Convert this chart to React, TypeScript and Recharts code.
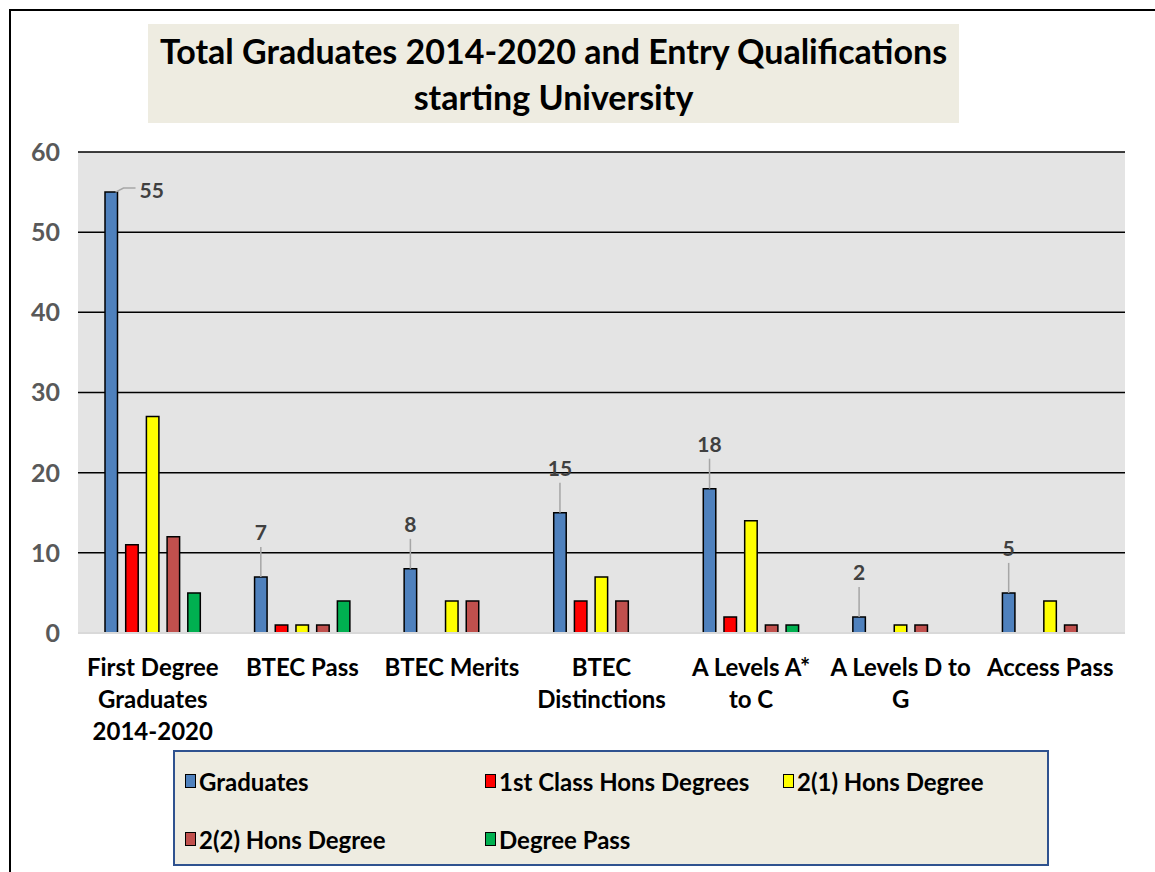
import React from 'react';
import { BarChart, Bar, XAxis, YAxis, CartesianGrid, Legend, LabelList } from 'recharts';

const categories = [
  'First Degree\nGraduates\n2014-2020',
  'BTEC Pass',
  'BTEC Merits',
  'BTEC\nDistinctions',
  'A Levels A*\nto C',
  'A Levels D to\nG',
  'Access Pass',
];
const graduates = [55, 7, 8, 15, 18, 2, 5];
const firstClass = [11, 1, null, 4, 2, null, null];
const upperSecond = [27, 1, 4, 7, 14, 1, 4];
const lowerSecond = [12, 1, 4, 4, 1, 1, 1];
const degreePass = [5, 4, null, null, 1, null, null];
const yTicks = [0, 10, 20, 30, 40, 50, 60];

const series = [
  { key: 'graduates', name: 'Graduates', color: '#4f81bd', values: graduates },
  { key: 'firstClass', name: '1st Class Hons Degrees', color: '#ff0000', values: firstClass },
  { key: 'upperSecond', name: '2(1) Hons Degree', color: '#ffff00', values: upperSecond },
  { key: 'lowerSecond', name: '2(2) Hons Degree', color: '#c0504d', values: lowerSecond },
  { key: 'degreePass', name: 'Degree Pass', color: '#00b050', values: degreePass },
];

const data = categories.map((cat, i) => {
  const row: any = { cat };
  series.forEach(s => { row[s.key] = s.values[i]; });
  return row;
});

const FONT = 'Lato, "Open Sans", sans-serif';

// x axis labels wrap over several lines
const CatTick = (props: any) => {
  const { x, y, payload } = props;
  const lines = String(payload.value).split('\n');
  return (
    <text x={x} y={y} textAnchor="middle" fill="#000" fontFamily={FONT} fontWeight={700} fontSize={24}>
      {lines.map((l, i) => (
        <tspan key={i} x={x} dy={i === 0 ? 35 : 32}>{l}</tspan>
      ))}
    </text>
  );
};

// value labels on the blue bars, with short leader lines
const GradLabel = (props: any) => {
  const { x, y, width, value, index } = props;
  const style = { fontFamily: FONT, fontWeight: 700, fontSize: 21, fill: '#404040' };
  if (index === 0) {
    return (
      <g>
        <path d={`M${x + width - 2},${y} L${x + width + 6},${y - 4} L${x + width + 18},${y - 4}`} stroke="#a6a6a6" strokeWidth={1.5} fill="none" />
        <text x={x + width + 22} y={y} dy={6} {...style}>{value}</text>
      </g>
    );
  }
  const cx = x + width / 2;
  return (
    <g>
      <line x1={cx} y1={y} x2={cx} y2={y - 30} stroke="#a6a6a6" strokeWidth={1.5} />
      <text x={cx} y={y - 44} textAnchor="middle" dy={7} {...style}>{value}</text>
    </g>
  );
};

const LegendBox = () => (
  <div
    style={{
      width: '100%', height: '100%', boxSizing: 'border-box',
      background: '#eeece1', border: '2px solid #2f528f',
      display: 'grid', gridTemplateColumns: '300px 298px auto', gridAutoRows: '58px',
      paddingLeft: 10, paddingTop: 0,
      fontFamily: FONT, fontWeight: 700, fontSize: 24, color: '#000',
    }}
  >
    {series.map(s => (
      <div key={s.key} style={{ display: 'flex', alignItems: 'center', whiteSpace: 'nowrap' }}>
        <span style={{ display: 'inline-block', width: 9, height: 12, background: s.color, border: '1.5px solid #000', marginRight: 3 }} />
        <span>{s.name}</span>
      </div>
    ))}
  </div>
);

export default function App() {
  return (
    <div style={{ position: 'absolute', left: 0, top: 0, width: 1155, height: 872, overflow: 'hidden', background: '#fff' }}>
      <div style={{ position: 'absolute', left: 9, top: 9, width: 1200, height: 900, borderLeft: '2px solid #000', borderTop: '2px solid #000' }} />
      <div
        style={{
          position: 'absolute', left: 148, top: 24, width: 811, height: 99, background: '#eeece1',
          fontFamily: FONT, fontWeight: 700, fontSize: 34, lineHeight: '46px', textAlign: 'center', color: '#000',
          paddingTop: 4, boxSizing: 'border-box', whiteSpace: 'nowrap',
        }}
      >
        Total Graduates 2014-2020 and Entry Qualifications<br />starting University
      </div>
      <BarChart
        width={1155}
        height={872}
        data={data}
        margin={{ top: 152, right: 30, left: 10, bottom: 119 }}
        barSize={12.5}
        barGap={8.2}
        style={{ position: 'absolute', left: 0, top: 0 }}
      >
        <CartesianGrid vertical={false} stroke="#000" strokeWidth={1.5} fill="#e4e4e4" fillOpacity={1} />
        <XAxis dataKey="cat" height={120} interval={0} tickLine={false} axisLine={{ stroke: '#d9d9d9', strokeWidth: 2 }} tick={<CatTick />} />
        <YAxis
          width={68}
          domain={[0, 60]}
          ticks={yTicks}
          tickLine={false}
          axisLine={false}
          tickMargin={12}
          tick={{ fill: '#595959', fontFamily: FONT, fontWeight: 700, fontSize: 25 }}
        />
        <Legend
          layout="horizontal"
          verticalAlign="middle"
          wrapperStyle={{ position: 'absolute', left: 173, top: 750, width: 876, height: 116 }}
          content={<LegendBox />}
        />
        {series.map(s => (
          <Bar key={s.key} dataKey={s.key} name={s.name} fill={s.color} stroke="#000" strokeWidth={1.5} isAnimationActive={false}>
            {s.key === 'graduates' && <LabelList dataKey="graduates" content={<GradLabel />} />}
          </Bar>
        ))}
      </BarChart>
    </div>
  );
}
